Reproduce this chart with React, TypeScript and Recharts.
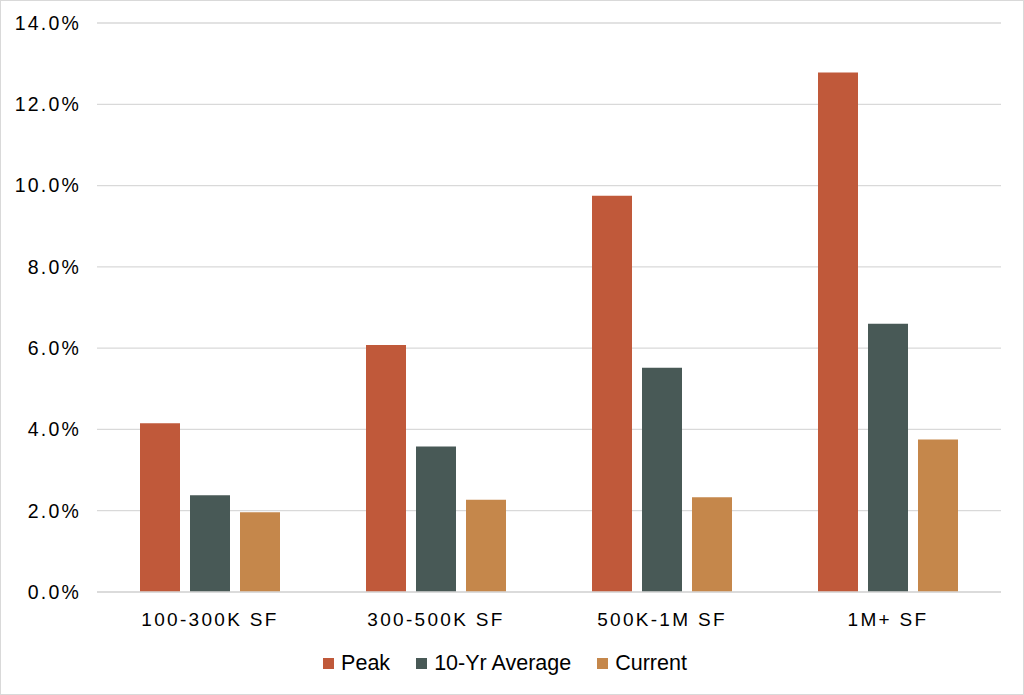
import React from 'react'
import { BarChart, Bar, XAxis, YAxis, CartesianGrid, Legend } from 'recharts'

const categories = ['100-300K SF', '300-500K SF', '500K-1M SF', '1M+ SF']
const peak = [4.15, 6.08, 9.75, 12.78]
const tenYrAverage = [2.38, 3.58, 5.52, 6.6]
const current = [1.96, 2.27, 2.33, 3.75]
const yTicks = [0, 2, 4, 6, 8, 10, 12, 14]

const series = [
  { key: 'peak', name: 'Peak', color: '#C0593A' },
  { key: 'avg', name: '10-Yr Average', color: '#485956' },
  { key: 'current', name: 'Current', color: '#C5874B' },
]

const chartData = categories.map((name, i) => ({
  name,
  peak: peak[i],
  avg: tenYrAverage[i],
  current: current[i],
}))

const font = '"Liberation Sans", Arial, sans-serif'

function LegendContent() {
  return (
    <div
      style={{
        height: 40,
        display: 'flex',
        alignItems: 'center',
        justifyContent: 'center',
        fontFamily: font,
        fontSize: 21.5,
        color: '#000',
        paddingLeft: 8,
      }}
    >
      {series.map(s => (
        <div key={s.key} style={{ display: 'flex', alignItems: 'center', margin: '0 13px' }}>
          <span style={{ width: 11, height: 11, background: s.color, marginRight: 7, display: 'inline-block' }} />
          <span>{s.name}</span>
        </div>
      ))}
    </div>
  )
}

export default function App() {
  return (
    <div
      style={{
        position: 'absolute',
        left: 0,
        top: 0,
        width: 1022,
        height: 693,
        border: '1px solid #D9D9D9',
        background: '#fff',
      }}
    >
      <BarChart
        width={1022}
        height={693}
        data={chartData}
        margin={{ top: 22, right: 22, left: 0, bottom: 11 }}
        barSize={40}
        barGap={10}
      >
        <CartesianGrid vertical={false} stroke="#D9D9D9" strokeWidth={1.3} />
        <XAxis
          dataKey="name"
          height={51}
          axisLine={{ stroke: '#D9D9D9', strokeWidth: 1.3 }}
          tickLine={false}
          tickMargin={15}
          tick={{ fill: '#000', fontSize: 19, fontFamily: font, letterSpacing: 2.3 }}
        />
        <YAxis
          width={96}
          domain={[0, 14]}
          ticks={yTicks}
          axisLine={false}
          tickLine={false}
          tickMargin={10}
          tickFormatter={(v: number) => `${v.toFixed(1)}%`}
          tick={{ fill: '#000', fontSize: 19.5, fontFamily: font, letterSpacing: 2.2 }}
        />
        <Legend verticalAlign="bottom" height={40} content={<LegendContent />} />
        {series.map(s => (
          <Bar key={s.key} dataKey={s.key} name={s.name} fill={s.color} isAnimationActive={false} />
        ))}
      </BarChart>
    </div>
  )
}
